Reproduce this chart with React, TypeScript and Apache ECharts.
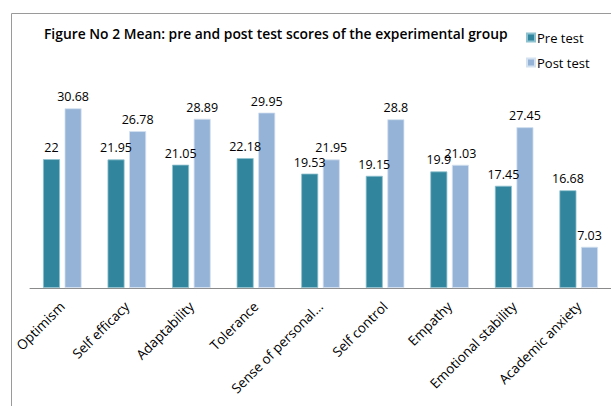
import React, { useEffect, useRef } from "react";
import * as echarts from "echarts";

const categories = [
  "Optimism",
  "Self efficacy",
  "Adaptability",
  "Tolerance",
  "Sense of personal...",
  "Self control",
  "Empathy",
  "Emotional stability",
  "Academic anxiety",
];
const preTest = [22, 21.95, 21.05, 22.18, 19.53, 19.15, 19.9, 17.45, 16.68];
const postTest = [30.68, 26.78, 28.89, 29.95, 21.95, 28.8, 21.03, 27.45, 7.03];

const FONT = "'Open Sans', 'Liberation Sans', sans-serif";

export default function App() {
  const ref = useRef<HTMLDivElement>(null);
  useEffect(() => {
    if (!ref.current) return;
    const chart = echarts.init(ref.current, undefined, { renderer: "svg" });
    const label = {
      show: true,
      position: "top" as const,
      distance: 5,
      color: "#000",
      fontSize: 12.5,
      fontFamily: FONT,
    };
    chart.setOption({
      animation: false,
      backgroundColor: "#fff",
      graphic: [
        {
          type: "rect",
          shape: { x: 11.5, y: 13.5, width: 700, height: 500 },
          style: { fill: "none", stroke: "#9a9a9a", lineWidth: 1 },
          silent: true,
        },
      ],
      title: {
        text: "Figure No 2 Mean: pre and post test scores of the experimental group",
        left: 44,
        top: 26,
        padding: 0,
        textStyle: {
          fontFamily: FONT,
          fontSize: 13.85,
          fontWeight: 600,
          color: "#000",
        },
      },
      legend: {
        orient: "vertical",
        left: 526,
        top: 31,
        padding: 0,
        itemWidth: 8,
        itemHeight: 8,
        itemGap: 12,
        icon: "rect",
        textStyle: { fontFamily: FONT, fontSize: 13, color: "#000", padding: [0, 0, 0, -3] },
        data: ["Pre test", "Post test"],
      },
      grid: { left: 30, right: -4, top: 83, bottom: 118, containLabel: false },
      xAxis: {
        type: "category",
        data: categories,
        axisLine: { show: true, lineStyle: { color: "#8a8a8a", width: 1 } },
        axisTick: { show: false },
        axisLabel: {
          rotate: 45,
          interval: 0,
          margin: 16,
          color: "#000",
          fontSize: 13.5,
          fontFamily: FONT,
        },
      },
      yAxis: {
        type: "value",
        min: 0,
        max: 35,
        show: false,
        splitLine: { show: false },
      },
      series: [
        {
          name: "Pre test",
          type: "bar",
          data: preTest,
          barWidth: 17,
          barGap: "27%",
          itemStyle: { color: "#31859C", borderColor: "#8fc2d0", borderWidth: 0.8 },
          label,
        },
        {
          name: "Post test",
          type: "bar",
          data: postTest,
          barWidth: 17,
          barGap: "27%",
          itemStyle: { color: "#95B3D7", borderColor: "#d4e1f0", borderWidth: 0.8 },
          label,
        },
      ],
    });
    return () => chart.dispose();
  }, []);
  return (
    <div
      ref={ref}
      style={{ position: "fixed", left: 0, top: 0, width: 611, height: 406 }}
    />
  );
}
